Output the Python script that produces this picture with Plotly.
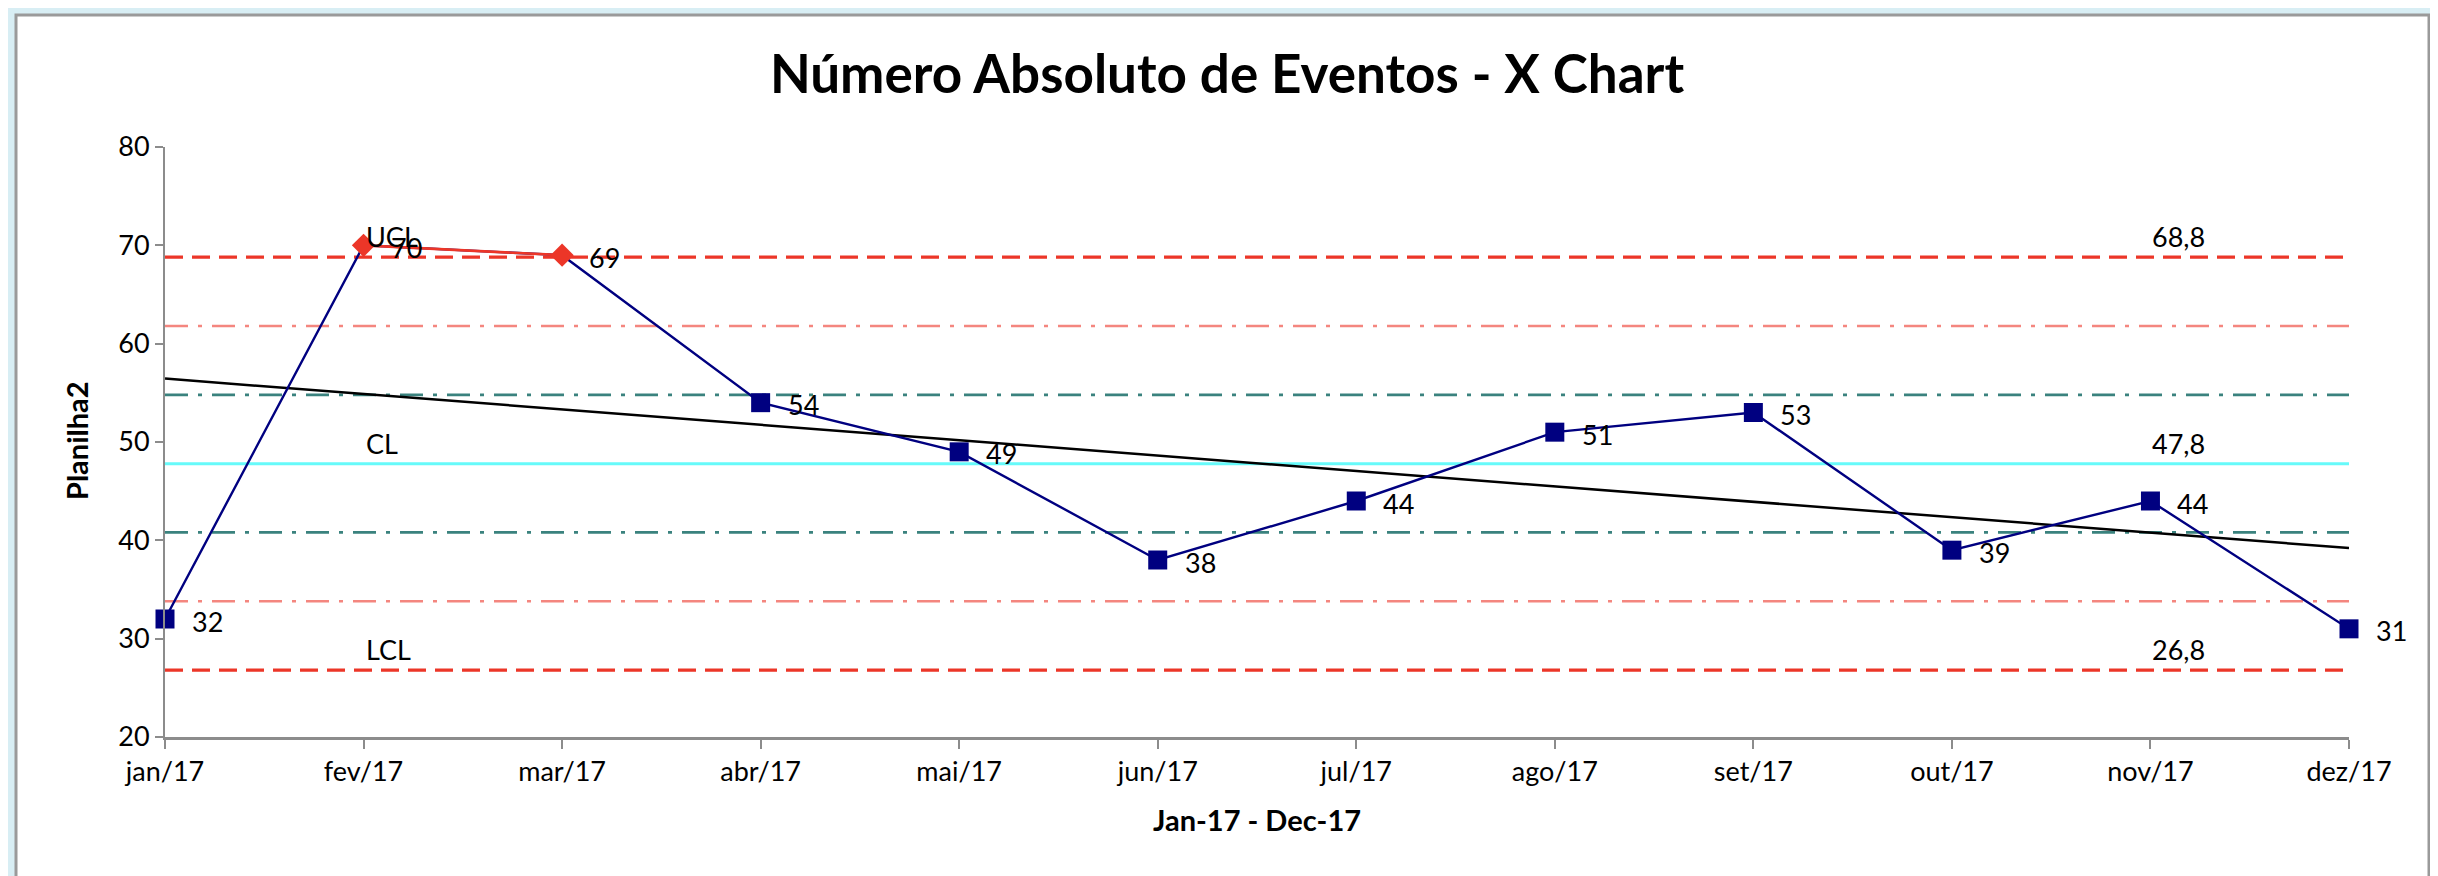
import numpy as np
import plotly.graph_objects as go

# ---------------- data ----------------
months = ["jan/17", "fev/17", "mar/17", "abr/17", "mai/17", "jun/17",
          "jul/17", "ago/17", "set/17", "out/17", "nov/17", "dez/17"]
values = [32, 70, 69, 54, 49, 38, 44, 51, 53, 39, 44, 31]
cl = 47.8
ucl = 68.8
lcl = 26.8
sigma_upper_2 = 61.8
sigma_upper_1 = 54.8
sigma_lower_1 = 40.8
sigma_lower_2 = 33.8
y_ticks = [20, 30, 40, 50, 60, 70, 80]
title_text = "Número Absoluto de Eventos - X Chart"
x_title = "Jan-17 - Dec-17"
y_title = "Planilha2"

# ---------------- geometry ----------------
W, H = 2438, 876
ML, MR, MT, MB = 157, 97, 139, 147
PW = W - ML - MR
PH = H - MT - MB

def px_x(p):
    return (p - ML) / PW

def px_y(p):
    return (H - MB - p) / PH

FONT = "Lato"
xi = list(range(len(months)))
x0, x1 = xi[0], xi[-1]

NAVY = "#000080"
RED = "#EC3628"
PINK = "#F4867F"
TEAL = "#3A827E"
CYAN = "#66FAFA"

fig = go.Figure()

def hline(y, color, dash, width):
    fig.add_trace(go.Scatter(x=[x0, x1], y=[y, y], mode="lines",
                             line=dict(color=color, dash=dash, width=width),
                             hoverinfo="skip", showlegend=False, cliponaxis=False))

hline(sigma_upper_2, PINK, "23px,10px,4px,10px", 2.6)
hline(sigma_lower_2, PINK, "23px,10px,4px,10px", 2.6)
hline(sigma_upper_1, TEAL, "23px,10px,4px,10px", 2.8)
hline(sigma_lower_1, TEAL, "23px,10px,4px,10px", 2.8)
hline(cl, CYAN, "solid", 3)
hline(ucl, RED, "18px,9px", 3.2)
hline(lcl, RED, "18px,9px", 3.2)

# trend line (linear regression of the data, like Excel's trendline)
slope, intercept = np.polyfit(xi, values, 1)
fig.add_trace(go.Scatter(x=[x0, x1], y=[intercept + slope * x0, intercept + slope * x1],
                         mode="lines", line=dict(color="black", width=2.5),
                         hoverinfo="skip", showlegend=False))

# data line
fig.add_trace(go.Scatter(x=xi, y=values, mode="lines", line=dict(color=NAVY, width=2.4),
                         showlegend=False, cliponaxis=False))

in_x = [x for x, v in zip(xi, values) if lcl <= v <= ucl]
in_y = [v for v in values if lcl <= v <= ucl]
out_x = [x for x, v in zip(xi, values) if not (lcl <= v <= ucl)]
out_y = [v for v in values if not (lcl <= v <= ucl)]

fig.add_trace(go.Scatter(x=in_x, y=in_y, mode="markers",
                         marker=dict(symbol="square", size=19, color=NAVY),
                         showlegend=False, cliponaxis=False))
fig.add_trace(go.Scatter(x=out_x, y=out_y, mode="lines+markers",
                         line=dict(color=RED, width=2.6),
                         marker=dict(symbol="diamond", size=18, color=RED),
                         showlegend=False, cliponaxis=False))

annotations = []
lab_font = dict(family=FONT, size=27, color="black")
for x, v in zip(xi, values):
    annotations.append(dict(x=x, y=v, xref="x", yref="y", text=str(v), showarrow=False,
                            xanchor="left", yanchor="middle", xshift=25, yshift=-2,
                            font=lab_font))

# control-limit labels
for txt, yv in [("UCL", ucl), ("CL", cl), ("LCL", lcl)]:
    annotations.append(dict(x=1, y=yv, xref="x", yref="y", text=txt, showarrow=False,
                            xanchor="left", yanchor="bottom", yshift=2, font=lab_font))
for yv in [ucl, cl, lcl]:
    annotations.append(dict(x=10, y=yv, xref="x", yref="y",
                            text=f"{yv:.1f}".replace(".", ","), showarrow=False,
                            xanchor="left", yanchor="bottom", yshift=2, font=lab_font))

# axis titles
annotations.append(dict(x=px_x(68), y=px_y(433), xref="paper", yref="paper", text=y_title,
                        textangle=-90, showarrow=False, xanchor="center", yanchor="middle",
                        font=dict(family=FONT, size=29, color="black", weight="bold")))
annotations.append(dict(x=px_x(1249), y=px_y(812), xref="paper", yref="paper", text=x_title,
                        showarrow=False, xanchor="center", yanchor="middle",
                        font=dict(family=FONT, size=29, color="black", weight="bold")))

shapes = [dict(type="rect", xref="paper", yref="paper", layer="below",
               x0=px_x(8), x1=px_x(2421), y0=px_y(873), y1=px_y(7),
               fillcolor="white", line=dict(color="#9a9a9a", width=3))]

fig.update_layout(
    width=W, height=H,
    margin=dict(l=ML, r=MR, t=MT, b=MB),
    paper_bgcolor="#D8EEF4",
    plot_bgcolor="white",
    title=dict(text=title_text, x=px_x(1249), xanchor="center", y=1 - 66 / H, yanchor="middle",
               font=dict(family=FONT, size=53, color="black", weight="bold")),
    xaxis=dict(range=[x0, x1], tickvals=xi, ticktext=months, showgrid=False, zeroline=False,
               showline=True, linecolor="#8c8c8c", linewidth=3, ticks="outside", ticklen=9,
               tickwidth=2, tickcolor="#8c8c8c", tickfont=dict(family=FONT, size=27, color="black")),
    yaxis=dict(range=[y_ticks[0], y_ticks[-1]], tickvals=y_ticks, showgrid=False, zeroline=False,
               showline=True, linecolor="#8c8c8c", linewidth=2, ticks="outside", ticklen=8,
               tickwidth=2, tickcolor="#8c8c8c", tickfont=dict(family=FONT, size=27, color="black")),
    annotations=annotations,
    shapes=shapes,
)

fig.write_html("out.html")
